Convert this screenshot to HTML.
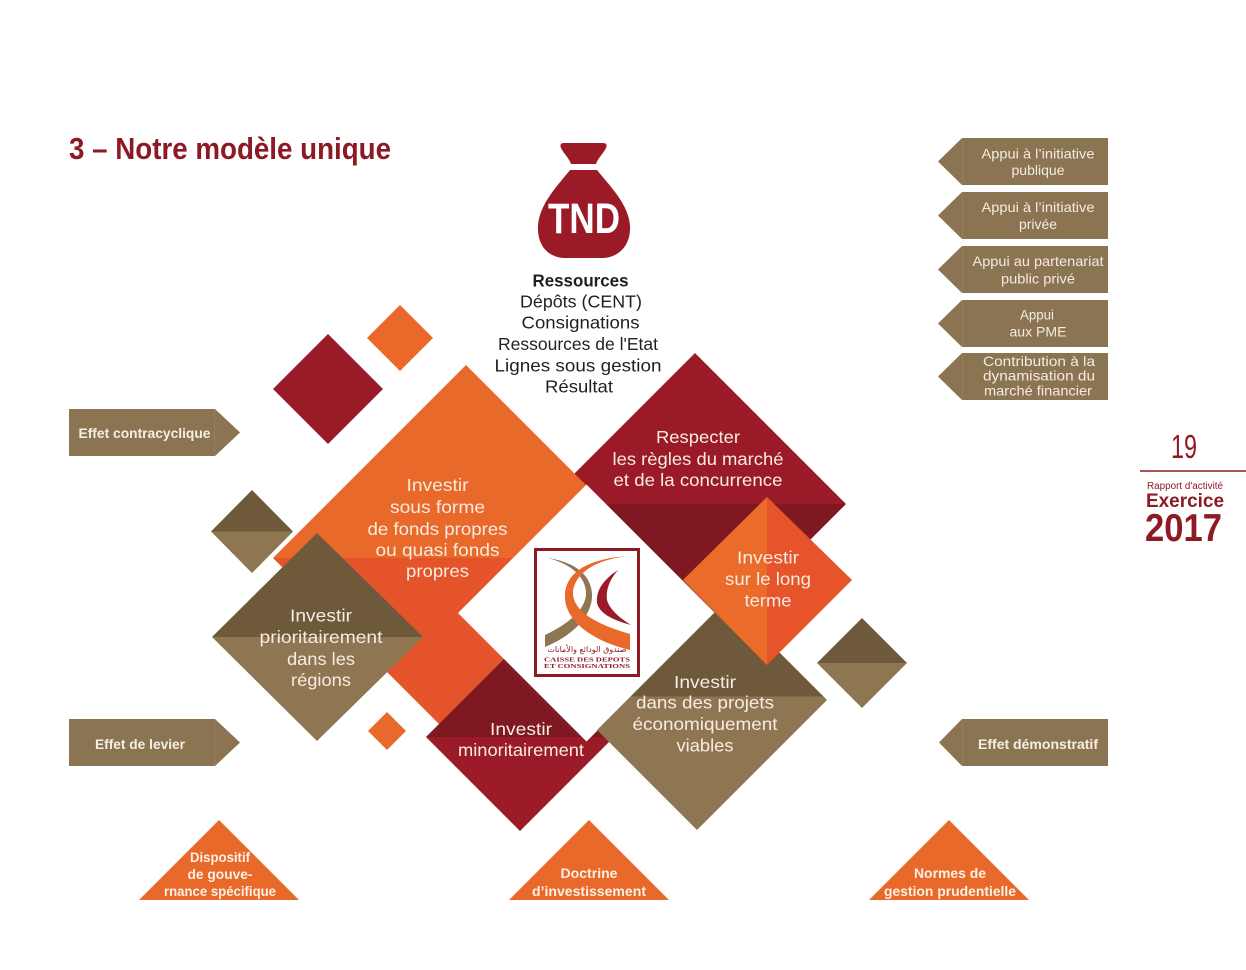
<!DOCTYPE html>
<html>
<head>
<meta charset="utf-8">
<style>
html,body{margin:0;padding:0;background:#fff;}
svg{display:block;}
text{font-family:"Liberation Sans","DejaVu Sans",sans-serif;}
.dt{font-size:17.5px;fill:#f8ece2;}
.rb{font-size:14px;fill:#f4ece0;}
.lb{font-size:14px;font-weight:bold;fill:#f7efe3;}
.tr{font-size:13.5px;font-weight:bold;fill:#fdf1e6;}
.rs{font-size:17.5px;fill:#231f20;}
</style>
</head>
<body>
<svg width="1246" height="970" viewBox="0 0 1246 970" xmlns="http://www.w3.org/2000/svg">
<defs>
  <linearGradient id="gOrB" x1="0" y1="0" x2="0" y2="1"><stop offset="0.5" stop-color="#e9692a"/><stop offset="0.5" stop-color="#e4532a"/></linearGradient>
  <linearGradient id="gRdB" x1="0" y1="0" x2="0" y2="1"><stop offset="0.5" stop-color="#9a1b27"/><stop offset="0.5" stop-color="#7e1821"/></linearGradient>
  <linearGradient id="gRdM" x1="0" y1="0" x2="0" y2="1"><stop offset="0.5" stop-color="#7e1821"/><stop offset="0.5" stop-color="#9a1b27"/></linearGradient>
  <linearGradient id="gBr" x1="0" y1="0" x2="0" y2="1"><stop offset="0.5" stop-color="#6e5a3a"/><stop offset="0.5" stop-color="#8d7651"/></linearGradient>
  <linearGradient id="gBrE" x1="0" y1="0" x2="0" y2="1"><stop offset="0.42" stop-color="#6e5a3a"/><stop offset="0.42" stop-color="#8d7651"/></linearGradient>
  <linearGradient id="gLg" x1="0" y1="0" x2="1" y2="0"><stop offset="0.497" stop-color="#eb6c2a"/><stop offset="0.497" stop-color="#e5542a"/></linearGradient>
</defs>

<!-- Title -->
<text x="69" y="159" font-size="31" font-weight="bold" fill="#8c1a24" textLength="322" lengthAdjust="spacingAndGlyphs">3 – Notre modèle unique</text>

<!-- Bag -->
<path d="M564,143 L603,143 Q608,143 606,148 C603,154 598,158 596,164 L571,164 C569,158 564,154 561,148 Q559,143 564,143 Z" fill="#9a1b27"/>
<path d="M570,170 L597,170 C608,184 629,204 630,226 C631,248 616,258 602,258 L565,258 C551,258 537,248 538,226 C539,204 559,184 570,170 Z" fill="#9a1b27"/>
<text x="584" y="233" font-size="43" font-weight="bold" fill="#fff" text-anchor="middle" textLength="72" lengthAdjust="spacingAndGlyphs">TND</text>

<!-- Resources text -->
<text class="rs" x="580.5" y="286.5" font-weight="bold" text-anchor="middle" textLength="96" lengthAdjust="spacingAndGlyphs">Ressources</text>
<text class="rs" x="581" y="307.7" text-anchor="middle" textLength="122" lengthAdjust="spacingAndGlyphs">Dépôts (CENT)</text>
<text class="rs" x="580.5" y="328.7" text-anchor="middle" textLength="118" lengthAdjust="spacingAndGlyphs">Consignations</text>
<text class="rs" x="578" y="350" text-anchor="middle" textLength="160" lengthAdjust="spacingAndGlyphs">Ressources de l'Etat</text>
<text class="rs" x="578" y="371.7" text-anchor="middle" textLength="167" lengthAdjust="spacingAndGlyphs">Lignes sous gestion</text>
<text class="rs" x="579" y="392.7" text-anchor="middle" textLength="68" lengthAdjust="spacingAndGlyphs">Résultat</text>

<!-- Small decorative diamonds -->
<polygon points="328,334 383,389 328,444 273,389" fill="#9a1b27"/>
<polygon points="400,305 433,338 400,371 367,338" fill="#e9692a"/>
<polygon points="252,490 293,531.5 252,573 211,531.5" fill="url(#gBr)"/>
<polygon points="387,712 406,731 387,750 368,731" fill="#e9692a"/>
<polygon points="862,618 907,663 862,708 817,663" fill="url(#gBr)"/>

<!-- Big shapes -->
<polygon points="695,353 846,504 695,655 544,504" fill="url(#gRdB)"/>
<polygon points="466,365 659,558 466,751 273,558" fill="url(#gOrB)"/>
<polygon points="520,643 614,737 520,831 426,737" fill="url(#gRdM)"/>
<polygon points="586.5,484.5 715,613 586.5,741.5 458,613" fill="#ffffff"/>
<polygon points="597,730 727,600 827,700 697,830" fill="url(#gBrE)"/>
<polygon points="767,497 852,580 767,665 683,580" fill="url(#gLg)"/>
<polygon points="317,533 423,637 317,741 212,637" fill="url(#gBr)"/>

<!-- Diamond texts -->
<g class="dt" text-anchor="middle">
  <text x="437.5" y="491" textLength="62" lengthAdjust="spacingAndGlyphs">Investir</text>
  <text x="437.5" y="513" textLength="95" lengthAdjust="spacingAndGlyphs">sous forme</text>
  <text x="437.5" y="535" textLength="140" lengthAdjust="spacingAndGlyphs">de fonds propres</text>
  <text x="437.5" y="556" textLength="124" lengthAdjust="spacingAndGlyphs">ou quasi fonds</text>
  <text x="437.5" y="577" textLength="63" lengthAdjust="spacingAndGlyphs">propres</text>

  <text x="321" y="621.5" textLength="62" lengthAdjust="spacingAndGlyphs">Investir</text>
  <text x="321" y="643" textLength="123" lengthAdjust="spacingAndGlyphs">prioritairement</text>
  <text x="321" y="665" textLength="68" lengthAdjust="spacingAndGlyphs">dans les</text>
  <text x="321" y="686" textLength="60" lengthAdjust="spacingAndGlyphs">régions</text>

  <text x="698" y="443" textLength="84" lengthAdjust="spacingAndGlyphs">Respecter</text>
  <text x="698" y="465" textLength="171" lengthAdjust="spacingAndGlyphs">les règles du marché</text>
  <text x="698" y="486" textLength="169" lengthAdjust="spacingAndGlyphs">et de la concurrence</text>

  <text x="768" y="563.5" textLength="62" lengthAdjust="spacingAndGlyphs">Investir</text>
  <text x="768" y="585" textLength="86" lengthAdjust="spacingAndGlyphs">sur le long</text>
  <text x="768" y="606.5" textLength="47" lengthAdjust="spacingAndGlyphs">terme</text>

  <text x="521" y="735" textLength="62" lengthAdjust="spacingAndGlyphs">Investir</text>
  <text x="521" y="756" textLength="126" lengthAdjust="spacingAndGlyphs">minoritairement</text>

  <text x="705" y="688" textLength="62" lengthAdjust="spacingAndGlyphs">Investir</text>
  <text x="705" y="708.5" textLength="138" lengthAdjust="spacingAndGlyphs">dans des projets</text>
  <text x="705" y="730" textLength="145" lengthAdjust="spacingAndGlyphs">économiquement</text>
  <text x="705" y="751.5" textLength="57" lengthAdjust="spacingAndGlyphs">viables</text>
</g>

<!-- Logo -->
<rect x="535.5" y="549.5" width="103" height="126" fill="#fff" stroke="#8e1b24" stroke-width="3"/>
<path d="M547,558 C566,562 585,574 586,592 C587,610 566,625 545,635 L545,647 C572,636 593,616 592,594 C591,572 570,561 547,558 Z" fill="#8d7651"/>
<path d="M629,556 C598,559 575,572 573,592 C572,610 595,624 630,634 L630,650 C592,641 563,620 565,594 C567,568 596,558 629,556 Z" fill="#e9692a"/>
<path d="M618,570 Q595,585 597,603 Q600,617 631,625 Q610,612 607,600 Q605,585 618,570 Z" fill="#9a1b27"/>
<text x="587" y="652" font-size="8" fill="#8e1b24" text-anchor="middle" style="font-family:'DejaVu Sans',sans-serif">صندوق الودائع والأمانات</text>
<text x="587" y="661.5" font-size="6.2" font-weight="bold" fill="#8e1b24" text-anchor="middle" textLength="86" lengthAdjust="spacingAndGlyphs" style="font-family:'Liberation Serif',serif">CAISSE DES DEPOTS</text>
<text x="587" y="668.2" font-size="6.2" font-weight="bold" fill="#8e1b24" text-anchor="middle" textLength="86" lengthAdjust="spacingAndGlyphs" style="font-family:'Liberation Serif',serif">ET CONSIGNATIONS</text>

<!-- Arrow boxes -->
<g fill="#8b7452">
  <rect x="962" y="138" width="146" height="47"/><polygon points="962,138 938,161.5 962,185"/>
  <rect x="962" y="192" width="146" height="47"/><polygon points="962,192 938,215.5 962,239"/>
  <rect x="962" y="246" width="146" height="47"/><polygon points="962,246 938,269.5 962,293"/>
  <rect x="962" y="300" width="146" height="47"/><polygon points="962,300 938,323.5 962,347"/>
  <rect x="962" y="353" width="146" height="47"/><polygon points="962,353 938,376.5 962,400"/>
  <rect x="962" y="719" width="146" height="47"/><polygon points="962,719 939,742.5 962,766"/>
  <rect x="69" y="409" width="146" height="47"/><polygon points="215,409 240,432.5 215,456"/>
  <rect x="69" y="719" width="146" height="47"/><polygon points="215,719 240,742.5 215,766"/>
</g>
<g stroke="#a08b69" stroke-width="1" opacity="0.5">
  <line x1="962.5" y1="138" x2="962.5" y2="185"/><line x1="962.5" y1="192" x2="962.5" y2="239"/>
  <line x1="962.5" y1="246" x2="962.5" y2="293"/><line x1="962.5" y1="300" x2="962.5" y2="347"/>
  <line x1="962.5" y1="353" x2="962.5" y2="400"/><line x1="962.5" y1="719" x2="962.5" y2="766"/>
  <line x1="214.5" y1="409" x2="214.5" y2="456"/><line x1="214.5" y1="719" x2="214.5" y2="766"/>
</g>

<g class="rb" text-anchor="middle">
  <text x="1038" y="158.5" textLength="113" lengthAdjust="spacingAndGlyphs">Appui à l’initiative</text>
  <text x="1038" y="175" textLength="53" lengthAdjust="spacingAndGlyphs">publique</text>
  <text x="1038" y="212" textLength="113" lengthAdjust="spacingAndGlyphs">Appui à l’initiative</text>
  <text x="1038" y="229" textLength="38" lengthAdjust="spacingAndGlyphs">privée</text>
  <text x="1038" y="266" textLength="131" lengthAdjust="spacingAndGlyphs">Appui au partenariat</text>
  <text x="1038" y="283.5" textLength="74" lengthAdjust="spacingAndGlyphs">public privé</text>
  <text x="1037" y="319.5" textLength="34" lengthAdjust="spacingAndGlyphs">Appui</text>
  <text x="1038" y="336.5" textLength="57" lengthAdjust="spacingAndGlyphs">aux PME</text>
  <text x="1039" y="366" textLength="112" lengthAdjust="spacingAndGlyphs">Contribution à la</text>
  <text x="1039" y="380.7" textLength="112" lengthAdjust="spacingAndGlyphs">dynamisation  du</text>
  <text x="1038" y="395.5" textLength="108" lengthAdjust="spacingAndGlyphs">marché financier</text>
</g>

<text class="lb" x="144.5" y="438" text-anchor="middle" textLength="132" lengthAdjust="spacingAndGlyphs">Effet contracyclique</text>
<text class="lb" x="140" y="749" text-anchor="middle" textLength="90" lengthAdjust="spacingAndGlyphs">Effet de levier</text>
<text class="lb" x="1038" y="749" text-anchor="middle" textLength="120" lengthAdjust="spacingAndGlyphs">Effet démonstratif</text>

<!-- Bottom triangles -->
<g fill="#e9692a">
  <polygon points="219,820 299,900 139,900"/>
  <polygon points="589,820 669,900 509,900"/>
  <polygon points="949,820 1029,900 869,900"/>
</g>
<g class="tr" text-anchor="middle">
  <text x="220" y="862" textLength="60" lengthAdjust="spacingAndGlyphs">Dispositif</text>
  <text x="220" y="879" textLength="65" lengthAdjust="spacingAndGlyphs">de gouve-</text>
  <text x="220" y="896" textLength="112" lengthAdjust="spacingAndGlyphs">rnance spécifique</text>
  <text x="589" y="878" textLength="57" lengthAdjust="spacingAndGlyphs">Doctrine</text>
  <text x="589" y="896" textLength="114" lengthAdjust="spacingAndGlyphs">d’investissement</text>
  <text x="950" y="878" textLength="72" lengthAdjust="spacingAndGlyphs">Normes de</text>
  <text x="950" y="896" textLength="132" lengthAdjust="spacingAndGlyphs">gestion prudentielle</text>
</g>

<!-- Page number / report -->
<text x="1184" y="458" font-size="33" fill="#8e1b24" text-anchor="middle" textLength="26" lengthAdjust="spacingAndGlyphs">19</text>
<line x1="1140" y1="471" x2="1246" y2="471" stroke="#8e1b24" stroke-width="1.5"/>
<text x="1147" y="489" font-size="10" fill="#8e1b24" textLength="76" lengthAdjust="spacingAndGlyphs">Rapport d'activité</text>
<text x="1146" y="507" font-size="19" font-weight="bold" fill="#8e1b24" textLength="78" lengthAdjust="spacingAndGlyphs">Exercice</text>
<text x="1145" y="541" font-size="39" font-weight="bold" fill="#8e1b24" textLength="77" lengthAdjust="spacingAndGlyphs">2017</text>
</svg>
</body>
</html>
